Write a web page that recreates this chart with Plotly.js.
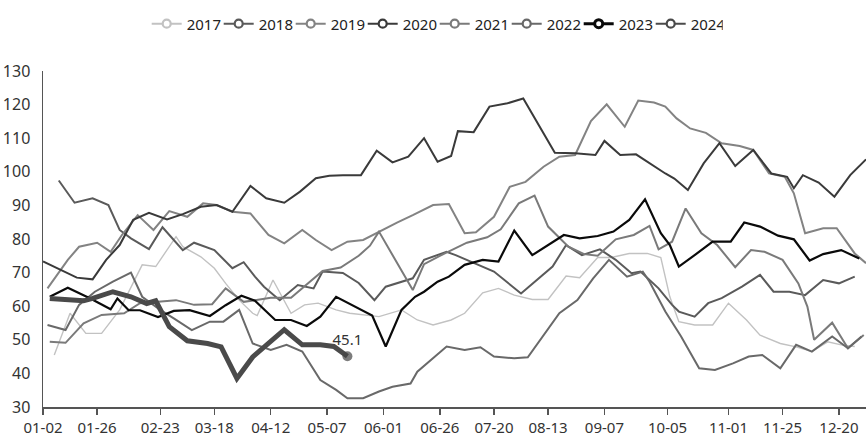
<!DOCTYPE html>
<html>
<head>
<meta charset="utf-8">
<script src="https://cdn.plot.ly/plotly-3.0.1.min.js"></script>
<style>
  html, body { margin: 0; padding: 0; background: #fff; }
  #chart { width: 866px; height: 436px; }
</style>
</head>
<body>
<div id="chart"></div>
<script>
// ---- x-axis ticks (day of year, 01-01 = 0) and their labels ----
const tickDays   = [1, 25, 53, 77, 102, 127, 152, 177, 201, 225, 250, 278, 305, 329, 354];
const tickLabels = ['01-02','01-26','02-23','03-18','04-12','05-07','06-01','06-26','07-20','08-13','09-07','10-05','11-01','11-25','12-20'];

// ---- series: day of year and value ----
const d2017 = [6,13,20,27,35,45,51,60,63,71,77,82,88,94,96,103,111,117,123,131,137,150,160,167,174,182,188,196,203,210,218,225,233,239,247,253,261,269,275,279,283,290,298,305,313,319,328,335,342,349,355,361];
const v2017 = [45.5,57.9,51.9,51.9,58.9,72.3,71.8,80.7,77.7,74.7,71.3,66.8,61.8,57.9,57.2,67.8,57.9,60.4,60.9,58.9,57.9,56.9,58.9,55.9,54.4,55.9,57.9,64,65.3,63.3,62,62,69,68.5,74.5,74.5,75.7,75.7,74.5,62.8,55.4,54.4,54.4,60.9,55.9,51.4,48.9,47.9,46.5,49.4,48.5,48];

const d2018 = [8,15,23,30,35,40,48,54,63,68,77,85,90,95,99,106,114,121,125,134,141,148,153,165,170,180,184,201,213,227,233,240,248,255,262,266,274,280,283,290,296,302,311,319,325,332,339,347,354,361];
const v2018 = [97.4,90.8,92.1,90.1,82.7,80.2,77,83.5,76.7,78.9,76.7,71.3,73.1,68.8,65.8,61.8,66.3,65.3,70.3,69.9,66.9,61.8,65.8,68.3,73.8,76.2,75.2,70.3,63.8,71.8,78.2,75.2,76.9,73.8,69.8,70.3,65.3,60.4,58.4,56.9,60.9,62.4,65.8,69.3,64.3,64.3,63.3,67.8,66.8,68.8];

const d2019 = [3,12,17,25,31,36,43,50,57,65,72,78,85,93,101,108,116,122,129,136,143,150,158,165,174,181,188,193,201,208,215,223,230,237,244,251,259,265,272,277,282,288,295,302,310,316,323,330,334,339,347,353,361,366];
const v2019 = [65.3,73.8,77.7,78.9,76.2,81.2,87.1,82.7,88.3,86.6,90.6,90.1,88.1,87.6,81.2,78.7,82.7,79.7,76.7,79.2,79.7,82.2,84.9,87.1,90.1,90.4,81.7,82,86.6,95.5,97,101.5,104.5,105,115.1,120.1,113.4,121.2,120.6,119.4,115.9,112.9,111.6,108.5,107.7,106.5,99.5,98.5,93.6,81.7,83.2,83.2,75.7,72.8];

const d2020 = [1,8,16,23,29,35,41,48,56,63,71,78,85,93,100,108,115,122,128,134,142,149,156,163,170,176,182,185,192,199,207,214,228,237,246,250,257,264,271,277,281,287,294,301,308,316,324,331,334,338,345,352,359,366];
const v2020 = [73.3,71,68.5,68,73.8,78.2,85.7,87.8,85.8,87.4,89.6,90.1,88.1,95.8,92.1,90.8,94.1,98.1,98.8,99,99,106.3,102.8,104.5,110,103,104.7,112.1,111.8,119.4,120.4,121.8,105.7,105.5,105,109.2,105,105.2,102,99.5,98,94.6,102.5,108.5,101.7,106.5,99.5,98.5,95.1,99,96.8,92.6,99,103.7];

const d2021 = [4,11,19,27,37,44,52,60,68,76,82,90,95,102,111,117,125,133,141,146,150,165,170,177,189,198,204,212,219,225,234,241,247,255,263,270,274,280,286,293,300,308,315,321,329,336,340,343,351,358,365];
const v2021 = [49.4,49.1,54.9,57.4,57.9,60.9,61.3,61.8,60.4,60.6,65.3,61.3,61.8,62.5,62.5,66,70.5,71.5,75,78,82.2,64.8,72.5,75,78.9,80.5,82.9,90.6,92.9,83.7,77.7,75.5,75,79.9,81.2,83.9,76.9,79.2,89.1,81.7,78.2,71.6,76.7,76.2,73.8,66.8,59.9,50,55.1,47.5,51.4];

const d2022 = [3,11,17,24,32,40,45,53,59,67,75,81,88,94,102,109,116,124,131,136,143,150,156,164,167,173,180,188,195,201,210,216,224,230,238,245,252,260,267,270,277,284,292,299,307,314,320,328,335,342,351,358,364];
const v2022 = [54.4,52.9,60.4,64.3,67.3,70,62.8,58.9,56.4,52.9,55.4,55.4,58.9,48.9,47,48.5,46.5,38,35.1,32.6,32.6,34.6,36,37,40.5,44,48,47,47.8,45,44.5,44.8,52.4,57.9,61.8,68.3,73.8,68.8,70.3,67.3,58.4,51,41.5,41,43,45,45.5,41.5,48.5,46.5,51,47.5,51];

const d2023 = [4,12,22,31,34,39,44,52,59,66,75,82,89,95,104,111,118,124,131,145,147,153,160,166,170,176,181,188,196,203,210,218,224,232,239,247,254,261,268,275,279,283,290,298,306,312,319,327,334,341,347,355,363];
const v2023 = [62.8,65.5,62.3,59.1,62.3,58.8,58.8,56.8,58.6,58.8,57.1,60.3,63.1,61.6,55.9,55.9,54.1,56.9,62.8,57.7,57.2,48,58.9,62.8,64.3,67.3,68.8,72.3,73.8,73.3,82.5,75.2,77.7,81.2,80.2,80.9,82.2,85.7,91.8,81.7,78.2,71.8,75.2,79.2,79.2,84.9,83.7,81,79.9,73.6,75.5,76.7,74.2];

const d2024 = [4,11,19,23,32,40,47,51,57,65,74,80,87,94,100,108,116,124,130,136];
const v2024 = [62.3,61.8,61.6,62.3,64.3,62.8,60.8,61.6,53.9,49.7,48.9,47.9,38.5,44.9,48.5,53,48.5,48.5,48,45.1];

const years = ['2017','2018','2019','2020','2021','2022','2023','2024'];
const dayArrays = [d2017, d2018, d2019, d2020, d2021, d2022, d2023, d2024];
const valArrays = [v2017, v2018, v2019, v2020, v2021, v2022, v2023, v2024];

// ---- styles ----
const colors = ['#c2c2c2','#5a5a5a','#838383','#3a3a3a','#7a7a7a','#696969','#0a0a0a','#4a4a4a'];
const widths = [1.4, 2, 2, 2, 2, 2, 2.2, 5];
const FONT = 'Noto Sans, Open Sans, sans-serif';

const traces = [];
years.forEach((y, k) => {
  const xs = dayArrays[k], ys = valArrays[k];
  const isLast = (k === years.length - 1);
  const t = {
    type: 'scatter', x: xs, y: ys, name: y, showlegend: false,
    mode: 'lines', line: { color: colors[k], width: widths[k] },
    hoverinfo: 'x+y+name'
  };
  if (isLast) {
    const n = ys.length;
    t.mode = 'lines+markers+text';
    t.marker = { size: ys.map((_, i) => i === n - 1 ? 10 : 0), color: '#444', line: { width: 0 } };
    t.text = ys.map((v, i) => i === n - 1 ? v.toFixed(1) : '');
    t.textposition = 'top center';
    t.textfont = { family: FONT, size: 15, color: '#333' };
    t.cliponaxis = false;
  }
  traces.push(t);
});

// legend-only entries (line with open circle)
years.forEach((y, k) => {
  traces.push({
    type: 'scatter', x: [null], y: [null], name: y, mode: 'lines+markers',
    line: { color: colors[k], width: k === 6 ? 3 : 2 },
    marker: { symbol: 'circle', size: 8, color: '#fff', line: { color: colors[k], width: k === 6 ? 3 : 2.2 } },
    hoverinfo: 'skip'
  });
});

const layout = {
  width: 866, height: 436,
  margin: { l: 43, r: 0, t: 71, b: 29, pad: 0 },
  paper_bgcolor: '#fff', plot_bgcolor: '#fff',
  font: { family: FONT, size: 16, color: '#333' },
  showlegend: true,
  legend: {
    orientation: 'h', x: 0.126, xanchor: 'left', y: 1.14, yanchor: 'middle',
    font: { family: FONT, size: 15, color: '#222' },
    entrywidth: 27, entrywidthmode: 'pixels', bgcolor: 'rgba(0,0,0,0)'
  },
  xaxis: {
    type: 'linear', range: [1, 366],
    tickmode: 'array', tickvals: tickDays, ticktext: tickLabels,
    ticks: 'outside', ticklen: 6, tickwidth: 1.5, tickcolor: '#555',
    showline: true, linecolor: '#555', linewidth: 1.5,
    showgrid: false, zeroline: false,
    tickfont: { family: FONT, size: 15, color: '#333' }
  },
  yaxis: {
    range: [30, 130], dtick: 10, tick0: 30,
    ticks: '', showline: true, linecolor: '#555', linewidth: 1.5,
    showgrid: false, zeroline: false, ticklabelstandoff: 8,
    tickfont: { family: FONT, size: 16, color: '#333' }
  }
};

Plotly.newPlot('chart', traces, layout, { displayModeBar: false, staticPlot: true });
</script>
</body>
</html>
